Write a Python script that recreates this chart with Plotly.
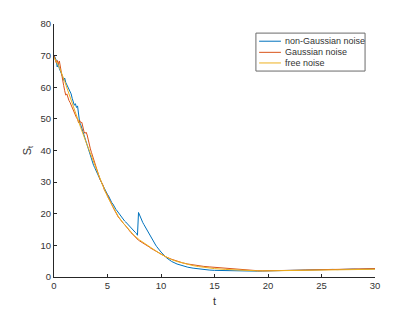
import plotly.graph_objects as go

# time grids
t_noisy = [0.0, 0.1, 0.2, 0.3, 0.4, 0.5, 0.6, 0.7, 0.8, 0.9,
           1.0, 1.1, 1.2, 1.3, 1.4, 1.5, 1.6, 1.7, 1.8, 1.9,
           2.0, 2.1, 2.2, 2.3, 2.4, 2.5, 2.6, 2.7, 2.8, 2.9,
           3.0, 3.1, 3.2, 3.3, 3.4, 3.5, 3.6, 3.7, 3.8, 3.9,
           4.0, 4.1, 4.2, 4.3, 4.4, 4.5, 4.6, 4.7, 4.8, 4.9,
           5.0, 5.1, 5.2, 5.3, 5.4, 5.5, 5.6, 5.7, 5.8, 5.9,
           6.0, 6.1, 6.2, 6.3, 6.4, 6.5, 6.6, 6.7, 6.8, 6.9,
           7.0, 7.1, 7.2, 7.3, 7.4, 7.5, 7.6, 7.7, 7.8, 7.9,
           8.0, 8.1, 8.2, 8.3, 8.4, 8.5, 8.6, 8.7, 8.8, 8.9,
           9.0, 9.1, 9.2, 9.3, 9.4, 9.5, 9.6, 9.7, 9.8, 9.9,
           10.0, 10.5, 11.0, 11.5, 12.0, 12.5, 13.0, 13.5, 14.0, 14.5,
           15.0, 15.5, 16.0, 16.5, 17.0, 17.5, 18.0, 18.5, 19.0, 19.5,
           20.0, 20.5, 21.0, 21.5, 22.0, 22.5, 23.0, 23.5, 24.0, 24.5,
           25.0, 25.5, 26.0, 26.5, 27.0, 27.5, 28.0, 28.5, 29.0, 29.5, 30.0]

s_non_gaussian = [70.2, 69.0, 68.6, 66.4, 67.3, 65.9, 65.2, 64.0, 63.4, 62.2,
                  62.9, 61.5, 60.8, 60.2, 59.6, 58.4, 57.9, 56.5, 55.2, 54.3,
                  54.8, 53.6, 54.1, 50.2, 48.8, 48.1, 47.0, 45.6, 44.8, 43.9,
                  42.6, 41.7, 40.3, 39.2, 38.0, 37.3, 36.1, 35.3, 34.6, 33.8,
                  33.0, 32.4, 31.5, 31.0, 30.2, 29.6, 28.7, 28.1, 27.3, 26.8,
                  26.1, 25.6, 24.8, 24.3, 23.5, 23.1, 22.4, 21.9, 21.3, 20.9,
                  20.4, 19.9, 19.6, 19.0, 18.6, 18.2, 17.7, 17.4, 17.0, 16.6,
                  16.3, 15.9, 15.6, 15.1, 14.8, 14.5, 14.1, 13.8, 13.2, 20.4,
                  19.5, 18.6, 17.9, 17.2, 16.6, 16.0, 15.3, 14.8, 14.1, 13.4,
                  12.7, 12.1, 11.6, 11.1, 10.6, 10.1, 9.6, 9.1, 8.7, 8.3,
                  7.9, 6.1, 4.9, 4.1, 3.5, 3.1, 2.8, 2.55, 2.35, 2.2,
                  2.1, 2.05, 2.0, 1.95, 1.9, 1.9, 1.85, 1.9, 1.85, 1.9,
                  1.95, 1.95, 2.0, 2.0, 2.05, 2.1, 2.1, 2.15, 2.2, 2.3,
                  2.35, 2.3, 2.4, 2.35, 2.45, 2.4, 2.5, 2.45, 2.5, 2.55, 2.6]

s_gaussian = [70.0, 69.2, 67.8, 68.5, 67.4, 68.3, 66.1, 63.8, 62.0, 60.6,
              58.9, 57.5, 57.9, 56.4, 55.8, 55.2, 54.3, 53.6, 52.8, 52.1,
              51.3, 50.4, 49.9, 48.7, 49.5, 48.8, 48.9, 47.2, 46.0, 45.4,
              45.8, 44.9, 43.0, 41.6, 40.5, 39.4, 38.3, 37.0, 36.2, 35.1,
              34.3, 33.1, 32.0, 30.9, 30.2, 29.5, 28.9, 27.6, 27.0, 26.7,
              25.8, 25.0, 24.4, 23.6, 22.9, 22.2, 21.5, 20.8, 20.1, 19.6,
              19.0, 18.6, 18.1, 17.6, 17.4, 16.9, 16.6, 16.1, 15.6, 15.2,
              14.8, 14.4, 14.0, 13.7, 13.3, 13.0, 12.7, 12.3, 12.0, 11.6,
              11.4, 11.2, 11.0, 10.9, 10.7, 10.5, 10.2, 10.0, 9.7, 9.5,
              9.2, 9.0, 8.8, 8.6, 8.4, 8.2, 8.0, 7.8, 7.6, 7.4,
              7.2, 6.3, 5.6, 5.0, 4.5, 4.1, 3.8, 3.55, 3.35, 3.2,
              3.05, 2.9, 2.75, 2.6, 2.45, 2.3, 2.2, 2.1, 2.0, 1.95,
              1.95, 2.0, 2.0, 2.05, 2.1, 2.1, 2.15, 2.2, 2.25, 2.3,
              2.3, 2.35, 2.4, 2.4, 2.45, 2.5, 2.5, 2.55, 2.55, 2.6, 2.65]

t_free = [0.0, 0.5, 1.0, 1.5, 2.0, 2.5, 3.0, 3.5, 4.0, 4.5,
          5.0, 5.5, 6.0, 6.5, 7.0, 7.5, 8.0, 8.5, 9.0, 9.5,
          10.0, 10.5, 11.0, 11.5, 12.0, 12.5, 13.0, 13.5, 14.0, 14.5,
          15.0, 16.0, 17.0, 18.0, 19.0, 20.0, 21.0, 22.0, 23.0, 24.0,
          25.0, 26.0, 27.0, 28.0, 29.0, 30.0]
s_free = [69.5, 66.3, 61.8, 56.8, 52.0, 47.2, 42.6, 38.0, 33.6, 29.4,
          25.4, 22.1, 19.2, 16.9, 14.9, 13.1, 11.7, 10.5, 9.4, 8.3,
          7.2, 6.3, 5.5, 4.9, 4.4, 4.0, 3.6, 3.3, 3.05, 2.85,
          2.65, 2.4, 2.2, 2.05, 1.95, 1.95, 2.0, 2.0, 2.05, 2.1,
          2.15, 2.2, 2.3, 2.35, 2.4, 2.45]

names = ["non-Gaussian noise", "Gaussian noise", "free noise"]
colors = ["#0072BD", "#D95319", "#EDB120"]

fig = go.Figure()
for xs, ys, nm, col in [(t_noisy, s_non_gaussian, names[0], colors[0]),
                        (t_noisy, s_gaussian, names[1], colors[1]),
                        (t_free, s_free, names[2], colors[2])]:
    fig.add_trace(go.Scatter(x=xs, y=ys, mode="lines", name=nm,
                             line=dict(color=col, width=1), showlegend=False))

FONT = "Liberation Sans, Arial, sans-serif"
TXT = "#333333"
axis_common = dict(showline=True, linecolor="#262626", linewidth=1, mirror=False,
                   ticks="inside", ticklen=3, tickcolor="#262626", tickwidth=1,
                   showgrid=False, zeroline=False, automargin=False,
                   tickfont=dict(family=FONT, size=9.5, color=TXT))

# compact legend box (paper coordinates, like MATLAB's legend)
lg_x0, lg_x1, lg_y0, lg_y1 = 0.629, 0.969, 0.814, 0.964
row_y = [0.932, 0.888, 0.846]
line_x0, line_x1, text_x = 0.639, 0.707, 0.713

shapes = [dict(type="rect", xref="paper", yref="paper",
               x0=lg_x0, x1=lg_x1, y0=lg_y0, y1=lg_y1,
               line=dict(color="#6b6b6b", width=1), fillcolor="white", layer="above")]
annotations = []
for nm, col, yy in zip(names, colors, row_y):
    shapes.append(dict(type="line", xref="paper", yref="paper",
                       x0=line_x0, x1=line_x1, y0=yy, y1=yy,
                       line=dict(color=col, width=1), layer="above"))
    annotations.append(dict(xref="paper", yref="paper", x=text_x, y=yy,
                            text=nm, showarrow=False, xanchor="left", yanchor="middle",
                            font=dict(family=FONT, size=9, color=TXT)))

# the page body adds an 8px offset, so the figure is sized to fit the window
fig.update_layout(
    width=407, height=304,
    margin=dict(l=46, r=40, t=16, b=35),
    paper_bgcolor="white", plot_bgcolor="white",
    font=dict(family=FONT, size=10, color=TXT),
    xaxis=dict(range=[0, 30], dtick=5, tick0=0,
               title=dict(text="t", font=dict(family=FONT, size=11, color=TXT), standoff=6), **axis_common),
    yaxis=dict(range=[0, 80], dtick=10, tick0=0,
               title=dict(text="S<sub>t</sub>", font=dict(family=FONT, size=11, color=TXT), standoff=6), **axis_common),
    shapes=shapes,
    annotations=annotations,
    showlegend=False,
)

fig.write_html("out.html")
